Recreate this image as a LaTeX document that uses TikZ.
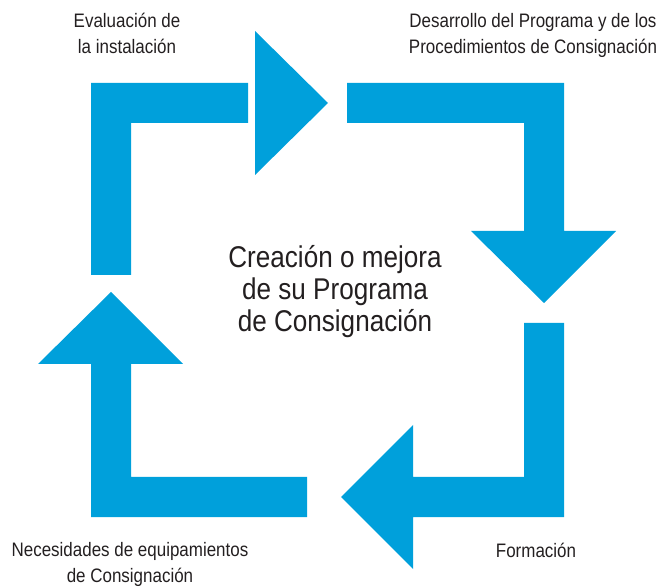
\documentclass[tikz,border=0pt]{standalone}
\usepackage{fontspec}
\setmainfont[FakeStretch=0.87]{Liberation Sans}
\definecolor{lockblue}{RGB}{0,160,219}
\definecolor{textgray}{RGB}{35,31,32}

\begin{document}
\begin{tikzpicture}[x=1pt,y=-1pt,
  bluearrow/.style={fill=lockblue,draw=none},
  lbl/.style={anchor=base,align=center,inner sep=0pt,text=textgray,font=\fontsize{19.5}{26}\selectfont},
  central/.style={anchor=base,align=center,inner sep=0pt,text=textgray,font=\fontsize{30}{32}\selectfont}]
\useasboundingbox (0,0) rectangle (665,588);

% evaluation arrow (bar and head are apart)
\fill[bluearrow] (91,275) -- (91,83) -- (248,83) -- (248,123) -- (131,123) -- (131,275) -- cycle;
\fill[bluearrow] (255,31) -- (328,103) -- (255,175) -- cycle;
% program arrow
\fill[bluearrow] (347,83) -- (564,83) -- (564,231) -- (616,231) -- (544,303) -- (471,231) -- (524,231) -- (524,123) -- (347,123) -- cycle;
% training arrow
\fill[bluearrow] (524,323) -- (564,323) -- (564,517) -- (413,517) -- (413,569) -- (341,497) -- (413,425) -- (413,477) -- (524,477) -- cycle;
% equipment arrow
\fill[bluearrow] (307,477) -- (307,517) -- (91,517) -- (91,364) -- (38,364) -- (111,292) -- (183,364) -- (131,364) -- (131,477) -- cycle;

% anchor=base sits on the last line
\node[lbl] (eval) at (127,54) {Evaluación de\\la instalación};
\node[lbl] (prog) at (533,54) {Desarrollo del Programa y de los\\Procedimientos de Consignación};
\node[lbl] (form) at (536,557) {Formación};
\node[lbl] (equip) at (130,582) {Necesidades de equipamientos\\de Consignación};
\node[central] (center) at (335,332) {Creación o mejora\\de su Programa\\de Consignación};
\end{tikzpicture}
\end{document}
